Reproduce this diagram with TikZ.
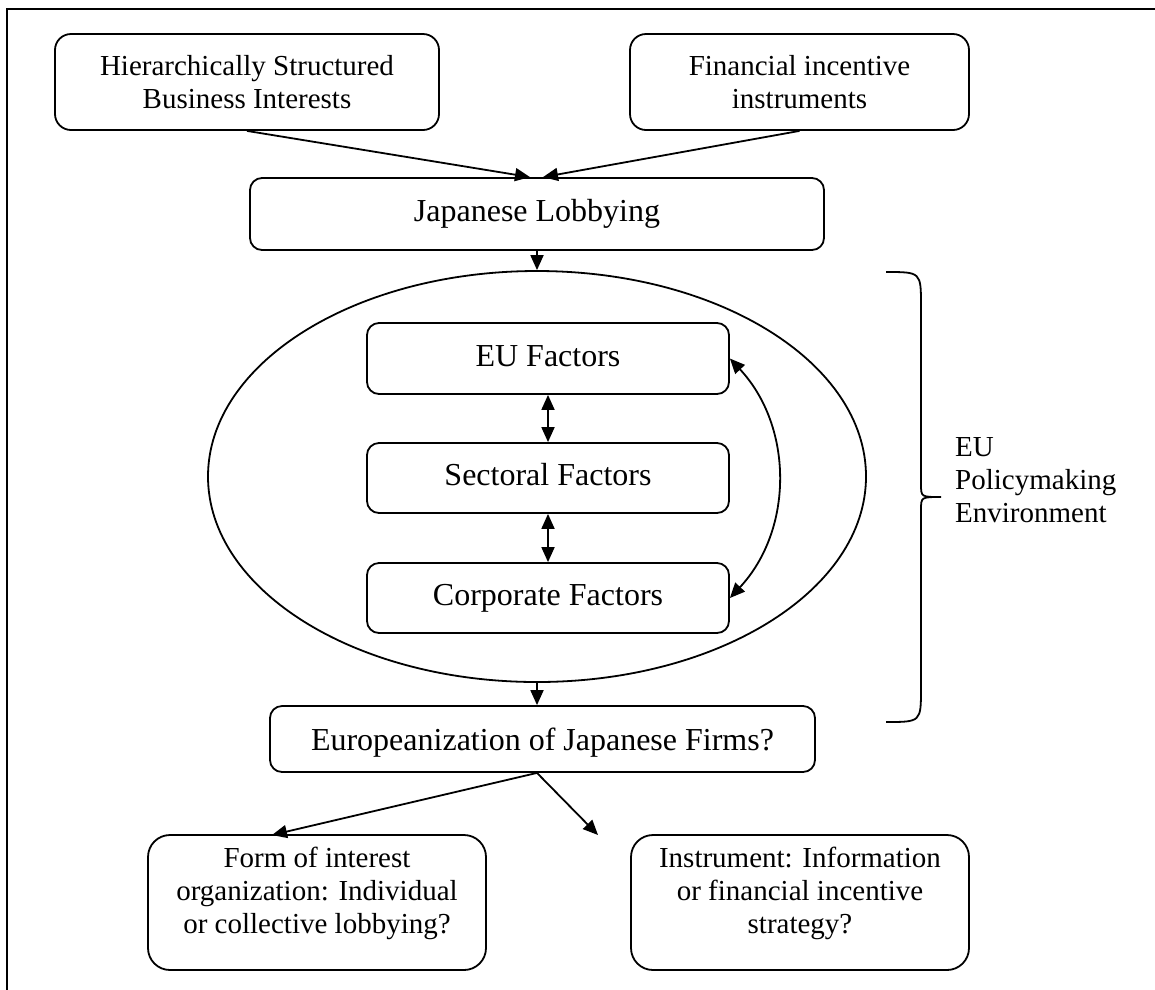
\documentclass[tikz,border=0pt]{standalone}
\usepackage{fontspec}
\setmainfont{Liberation Serif}
\usetikzlibrary{shapes.geometric, arrows.meta}

% extra depth below the last line, to lift a text block inside its box
\newcommand\padbelow[1]{\rule[-#1]{0pt}{0pt}}

\tikzset{
  line/.style={line width=1.8pt},
  tip/.style={-{Triangle[length=15pt,width=13pt]}},
  dtip/.style={{Triangle[length=15pt,width=13pt]}-{Triangle[length=15pt,width=13pt]}},
  box/.style={draw, line width=1.8pt, inner sep=0pt, align=center},
  small/.style={font=\fontsize{29}{33}\selectfont},
  big/.style={font=\fontsize{32}{33}\selectfont, text height=22pt, text depth=7pt},
}

\begin{document}
\begin{tikzpicture}[x=1pt, y=-1pt]
\useasboundingbox (0,0) rectangle (1155,989);

% frame (left and top edges)
\draw[line width=2.4pt, line cap=rect] (7,989) -- (7,9) -- (1155,9);

% top row
\node[box, small, rounded corners=16pt, minimum width=384pt, minimum height=96pt]
  (hier) at (247,82) {Hierarchically Structured\\Business Interests};
\node[box, small, rounded corners=16pt, minimum width=339pt, minimum height=96pt]
  (fin) at (799.5,82) {Financial incentive\\instruments};

\node[box, big, rounded corners=12pt, minimum width=574pt, minimum height=72pt]
  (lob) at (537,214) {Japanese Lobbying};

% policymaking environment
\node[draw, line width=1.8pt, ellipse, inner sep=0pt, minimum width=658pt, minimum height=411pt]
  (ell) at (537,476.5) {};

\node[box, big, rounded corners=12pt, minimum width=362pt, minimum height=71pt]
  (eu) at (548,358.5) {EU Factors};
\node[box, big, rounded corners=12pt, minimum width=362pt, minimum height=70pt]
  (sec) at (548,478) {Sectoral Factors};
\node[box, big, rounded corners=12pt, minimum width=362pt, minimum height=70pt]
  (corp) at (548,598) {Corporate Factors};

\node[small, align=left, anchor=west, inner sep=0pt]
  (env) at (955,480.5) {EU\\Policymaking\\Environment};

% right brace
\draw[line] (886,272) .. controls (921,272) .. (921,306) -- (921,484)
  .. controls (921,497) .. (941,497) .. controls (921,497) .. (921,510)
  -- (921,688) .. controls (921,722) .. (886,722);

\node[box, big, text depth=0pt, rounded corners=12pt, minimum width=545pt, minimum height=66pt]
  (eur) at (542.5,739) {Europeanization of Japanese Firms?};

% bottom row
\node[box, small, rounded corners=22pt, minimum width=338pt, minimum height=135pt]
  (form) at (317,902.5) {Form of interest\\organization: Individual\\or collective lobbying?\padbelow{25pt}};
\node[box, small, rounded corners=22pt, minimum width=338pt, minimum height=135pt]
  (inst) at (800,902.5) {Instrument: Information\\or financial incentive\\strategy?\padbelow{25pt}};

\coordinate (formtip) at (272,835);
\coordinate (insttip) at (598,835);

% connectors
\draw[line, tip] (hier.south) -- ([xshift=-7pt]lob.north);
\draw[line, tip] (fin.south) -- ([xshift=6pt]lob.north);
\draw[line, tip] (lob.south) -- (ell.north);
\draw[line, dtip] (eu) -- (sec);
\draw[line, dtip] (sec) -- (corp);
\draw[line, dtip] (corp.east) to[bend right=43] (eu.east);
\draw[line, tip] (ell.south) -- (ell.south |- eur.north);
\draw[line, tip] (ell.south |- eur.south) -- (formtip);
\draw[line, tip] (ell.south |- eur.south) -- (insttip);
\end{tikzpicture}
\end{document}
